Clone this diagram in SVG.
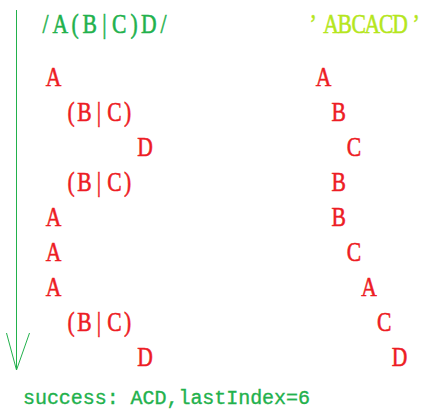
<svg xmlns="http://www.w3.org/2000/svg" width="438" height="419" viewBox="0 0 438 419">
<style>
.t{font-family:'Liberation Serif','Times New Roman',serif;font-size:27px;text-anchor:middle;stroke-width:0.55}
.r{fill:#ED1C24;stroke:#ED1C24}
.g{fill:#22B14C;stroke:#22B14C}
.y{fill:#B5E61D;stroke:#B5E61D}
.m{font-family:'Liberation Mono','Courier New',monospace;font-size:20px;fill:#22B14C;stroke:#22B14C;stroke-width:0.35}
.ln{stroke:#22B14C;stroke-width:1;fill:none}
</style>
<rect width="438" height="419" fill="#FFFFFF"/>
<g id="connectors">
<line class="ln" x1="16.5" y1="10" x2="16.5" y2="370"/>
<polyline class="ln" points="6.5,333 16.5,370 29.5,333"/>
</g>
<g id="headers" transform="scale(0.8,1)">
<text id="regex" class="t g" y="33" x="56.9 75.3 93.75 112.2 130.6 149.1 167.5 185.9 204.4">/A(B|C)D/</text>
<text id="input" class="t y" y="33" x="391.25 413.75 431 448.25 465.5 482.75 500 520">’ABCACD’</text>
</g>
<g id="left-steps" class="t r" transform="scale(0.8,1)">
<g id="l1"><text y="86" x="66.9">A</text></g>
<g id="l2"><text y="121" x="88.75 105.6 123.75 143.1 159.4">(B|C)</text></g>
<g id="l3"><text y="156" x="181.25">D</text></g>
<g id="l4"><text y="191" x="88.75 105.6 123.75 143.1 159.4">(B|C)</text></g>
<g id="l5"><text y="226" x="66.9">A</text></g>
<g id="l6"><text y="261" x="66.9">A</text></g>
<g id="l7"><text y="296" x="66.9">A</text></g>
<g id="l8"><text y="331" x="88.75 105.6 123.75 143.1 159.4">(B|C)</text></g>
<g id="l9"><text y="366" x="181.25">D</text></g>
</g>
<g id="right-steps" class="t r" transform="scale(0.8,1)">
<g id="r1"><text y="86" x="404.4">A</text></g>
<g id="r2"><text y="121" x="423.4">B</text></g>
<g id="r3"><text y="156" x="442.4">C</text></g>
<g id="r4"><text y="191" x="423.4">B</text></g>
<g id="r5"><text y="226" x="423.4">B</text></g>
<g id="r6"><text y="261" x="442.4">C</text></g>
<g id="r7"><text y="296" x="461.4">A</text></g>
<g id="r8"><text y="331" x="480.4">C</text></g>
<g id="r9"><text y="366" x="499.4">D</text></g>
</g>
<g id="result">
<text class="m" x="23" y="404" textLength="287" lengthAdjust="spacing">success: ACD,lastIndex=6</text>
</g>
</svg>
